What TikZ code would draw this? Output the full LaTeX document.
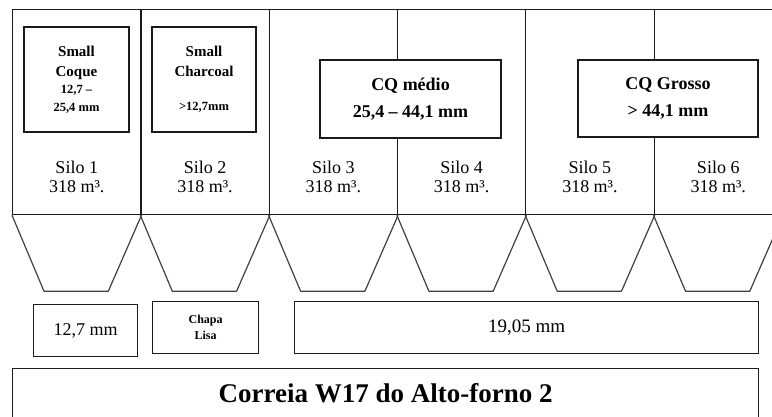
\documentclass[tikz,border=0pt]{standalone}
\usepackage{fontspec}
\setmainfont{Liberation Serif}
\usetikzlibrary{positioning,calc}
\definecolor{ink}{HTML}{1A1A1A}
\definecolor{chutegray}{HTML}{404040}
\newcommand\smallsize{\fontsize{12.5}{15}\selectfont}
\tikzset{silo/.style={draw=ink,line width=1.2pt,minimum width=128.3pt,minimum height=205pt,
 inner sep=0pt,anchor=north west},
 grade/.style={draw=ink,fill=white,line width=1.2pt,inner sep=0pt,align=center,font=\bfseries},
 silotxt/.style={align=center,inner sep=0pt,font=\fontsize{18}{19.5}\selectfont},
 chute/.style={draw=chutegray,line width=1.2pt,line join=round},
 outlet/.style={draw=ink,line width=1.2pt,inner sep=0pt,anchor=north west,align=center}}

\begin{document}
\begin{tikzpicture}[x=1pt,y=-1pt]
\useasboundingbox (0,0) rectangle (772,416);
% silos and hoppers
\foreach \i in {1,...,6}{
 \node[silo] (silo\i) at ({12+128.3*(\i-1)},9) {};
 \draw[chute] (silo\i.south west)--++(32,76)--++(64.3,0)--(silo\i.south east);
 \node[silotxt] (cap\i) at ($(silo\i.north)!0.815!(silo\i.south)$) {Silo \i\\318 m³.};
}
% size classes
\node[grade,minimum width=105pt,minimum height=105pt,font=\bfseries\fontsize{15}{20}\selectfont]
 (coque) at (76.5,79.5) {Small\\Coque\\[-3pt]\smallsize 12,7 –\\[-2pt]\smallsize 25,4 mm};
\node[grade,minimum width=104pt,minimum height=105pt,font=\bfseries\fontsize{15}{20}\selectfont]
 (charcoal) at (204,79.5) {Small\\Charcoal\\[14pt]\smallsize >12,7mm};
\node[grade,minimum width=181pt,minimum height=78pt,font=\bfseries\fontsize{18}{27}\selectfont]
 (medio) at (410.5,99) {CQ médio\\25,4 – 44,1 mm};
\node[grade,minimum width=180pt,minimum height=77pt,font=\bfseries\fontsize{18}{27}\selectfont]
 (grosso) at (668,98.5) {CQ Grosso\\> 44,1 mm};
% screens under the hoppers
\node[outlet,minimum width=104pt,minimum height=52pt,font=\fontsize{18}{19}\selectfont]
 (out1) at (33,304) {12,7 mm};
\node[outlet,minimum width=106pt,minimum height=52pt,font=\bfseries\fontsize{12}{16}\selectfont]
 (out2) at (152,301) {Chapa\\Lisa};
\node[outlet,minimum width=464pt,minimum height=52pt,font=\fontsize{19}{19}\selectfont]
 (out3) at (294,301) {19,05 mm};
\node[outlet,minimum width=746pt,minimum height=50pt,font=\bfseries\fontsize{27}{28}\selectfont]
 (belt) at (12,368) {Correia W17 do Alto-forno 2};
\end{tikzpicture}
\end{document}
